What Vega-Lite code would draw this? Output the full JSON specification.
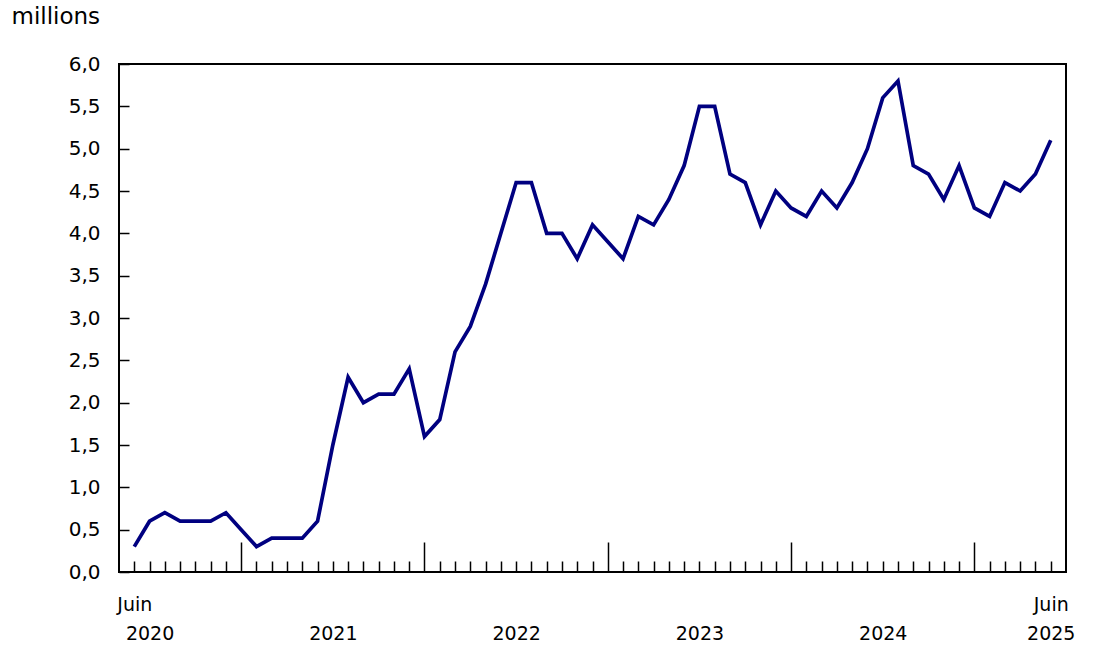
{
  "$schema": "https://vega.github.io/schema/vega-lite/v6.json",
  "width": 947,
  "height": 508,
  "autosize": "none",
  "padding": {"left": 119, "top": 64, "right": 31, "bottom": 90},
  "background": "white",
  "config": {
    "font": "DejaVu Sans",
    "view": {"stroke": "black", "strokeWidth": 2},
    "axis": {"grid": false, "domain": false, "tickColor": "black", "tickWidth": 1.5, "labelColor": "black", "labelFont": "DejaVu Sans", "labelFontSize": 19}
  },
  "data": {
    "values": [
      {"mois": "2020-06", "valeur": 0.3}, {"mois": "2020-07", "valeur": 0.6}, {"mois": "2020-08", "valeur": 0.7},
      {"mois": "2020-09", "valeur": 0.6}, {"mois": "2020-10", "valeur": 0.6}, {"mois": "2020-11", "valeur": 0.6},
      {"mois": "2020-12", "valeur": 0.7},
      {"mois": "2021-01", "valeur": 0.5}, {"mois": "2021-02", "valeur": 0.3}, {"mois": "2021-03", "valeur": 0.4},
      {"mois": "2021-04", "valeur": 0.4}, {"mois": "2021-05", "valeur": 0.4}, {"mois": "2021-06", "valeur": 0.6},
      {"mois": "2021-07", "valeur": 1.5}, {"mois": "2021-08", "valeur": 2.3}, {"mois": "2021-09", "valeur": 2.0},
      {"mois": "2021-10", "valeur": 2.1}, {"mois": "2021-11", "valeur": 2.1}, {"mois": "2021-12", "valeur": 2.4},
      {"mois": "2022-01", "valeur": 1.6}, {"mois": "2022-02", "valeur": 1.8}, {"mois": "2022-03", "valeur": 2.6},
      {"mois": "2022-04", "valeur": 2.9}, {"mois": "2022-05", "valeur": 3.4}, {"mois": "2022-06", "valeur": 4.0},
      {"mois": "2022-07", "valeur": 4.6}, {"mois": "2022-08", "valeur": 4.6}, {"mois": "2022-09", "valeur": 4.0},
      {"mois": "2022-10", "valeur": 4.0}, {"mois": "2022-11", "valeur": 3.7}, {"mois": "2022-12", "valeur": 4.1},
      {"mois": "2023-01", "valeur": 3.9}, {"mois": "2023-02", "valeur": 3.7}, {"mois": "2023-03", "valeur": 4.2},
      {"mois": "2023-04", "valeur": 4.1}, {"mois": "2023-05", "valeur": 4.4}, {"mois": "2023-06", "valeur": 4.8},
      {"mois": "2023-07", "valeur": 5.5}, {"mois": "2023-08", "valeur": 5.5}, {"mois": "2023-09", "valeur": 4.7},
      {"mois": "2023-10", "valeur": 4.6}, {"mois": "2023-11", "valeur": 4.1}, {"mois": "2023-12", "valeur": 4.5},
      {"mois": "2024-01", "valeur": 4.3}, {"mois": "2024-02", "valeur": 4.2}, {"mois": "2024-03", "valeur": 4.5},
      {"mois": "2024-04", "valeur": 4.3}, {"mois": "2024-05", "valeur": 4.6}, {"mois": "2024-06", "valeur": 5.0},
      {"mois": "2024-07", "valeur": 5.6}, {"mois": "2024-08", "valeur": 5.8}, {"mois": "2024-09", "valeur": 4.8},
      {"mois": "2024-10", "valeur": 4.7}, {"mois": "2024-11", "valeur": 4.4}, {"mois": "2024-12", "valeur": 4.8},
      {"mois": "2025-01", "valeur": 4.3}, {"mois": "2025-02", "valeur": 4.2}, {"mois": "2025-03", "valeur": 4.6},
      {"mois": "2025-04", "valeur": 4.5}, {"mois": "2025-05", "valeur": 4.7}, {"mois": "2025-06", "valeur": 5.1}
    ]
  },
  "mark": {"type": "line", "color": "#000080", "strokeWidth": 3.7},
  "encoding": {
    "x": {
      "field": "mois",
      "type": "ordinal",
      "scale": {"type": "point", "padding": 1.05},
      "axis": {
        "title": null,
        "labelAngle": 0,
        "labelOverlap": false,
        "tickSize": {"condition": {"test": "substring(datum.value, 5, 7) == '01'", "value": -30}, "value": -11},
        "labelPadding": 34,
        "labelLineHeight": 29,
        "labelExpr": "datum.value == '2020-06' ? 'Juin' : datum.value == '2025-06' ? ['Juin', '2025'] : (substring(datum.value, 5, 7) == '07' && datum.value != '2025-07') ? ['', substring(datum.value, 0, 4)] : ''"
      }
    },
    "y": {
      "field": "valeur",
      "type": "quantitative",
      "scale": {"domain": [0, 6], "nice": false},
      "axis": {
        "title": "millions",
        "titleAngle": 0,
        "titleAlign": "left",
        "titleBaseline": "top",
        "titleFontWeight": "normal",
        "titleFontSize": 23,
        "titleColor": "black",
        "titleX": -108,
        "titleY": -59,
        "values": [0, 0.5, 1, 1.5, 2, 2.5, 3, 3.5, 4, 4.5, 5, 5.5, 6],
        "tickSize": -10,
        "labelFontSize": 20,
        "labelPadding": 29,
        "labelExpr": "replace(format(datum.value, '.1f'), '.', ',')"
      }
    }
  }
}
